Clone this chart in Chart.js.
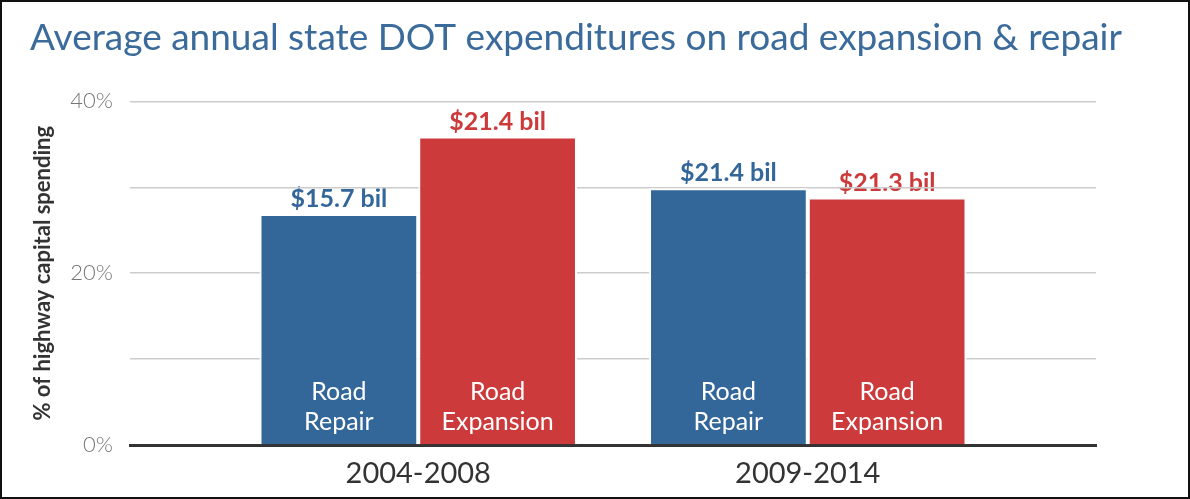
<!DOCTYPE html>
<html>
<head>
<meta charset="utf-8">
<script src="https://cdn.jsdelivr.net/npm/chart.js@4.4.1/dist/chart.umd.min.js"></script>
<style>
  html, body { margin: 0; padding: 0; background: #fff; }
  #wrap { width: 1190px; height: 499px; position: relative; }
  canvas { display: block; }
</style>
</head>
<body>
<div id="wrap"><canvas id="c" width="1190" height="499"></canvas></div>
<script>
// ---- data ----
const chartTitle = 'Average annual state DOT expenditures on road expansion & repair';
const yAxisTitle = '% of highway capital spending';
const categories = ['2004-2008', '2009-2014'];
const seriesNames = ['Road Repair', 'Road Expansion'];
const repairShare = [26.9, 29.9];      // % of highway capital spending
const expansionShare = [35.9, 28.8];   // % of highway capital spending
const repairDollars = ['$15.7 bil', '$21.4 bil'];
const expansionDollars = ['$21.4 bil', '$21.3 bil'];
const yTickLabels = { 0: '0%', 20: '20%', 40: '40%' };

const BLUE = '#336799';
const RED = '#cc3a3b';

function toPoints(arr) { return arr.map((v, i) => ({ x: i + 1, y: v })); }

const labelPlugin = {
  id: 'barLabels',
  beforeDraw(chart) {
    const ctx = chart.ctx;
    ctx.save();
    ctx.textAlign = 'center';
    ctx.textBaseline = 'alphabetic';
    ctx.font = 'bold 25px Lato';
    chart.data.datasets.forEach((ds, di) => {
      const meta = chart.getDatasetMeta(di);
      meta.data.forEach((bar, i) => {
        ctx.fillStyle = ds.backgroundColor;
        ctx.fillText(ds.valueLabels[i], bar.x, bar.y - 7);
      });
    });
    ctx.restore();
  },
  afterDatasetsDraw(chart) {
    const ctx = chart.ctx;
    ctx.save();
    ctx.textAlign = 'center';
    ctx.textBaseline = 'middle';
    ctx.font = '25px Lato';
    ctx.fillStyle = '#ffffff';
    chart.data.datasets.forEach((ds, di) => {
      const meta = chart.getDatasetMeta(di);
      const words = ds.label.split(' ');
      meta.data.forEach((bar) => {
        ctx.fillText(words[0], bar.x, 392);
        ctx.fillText(words.slice(1).join(' '), bar.x, 422);
      });
    });
    ctx.restore();
  },
  afterDraw(chart) {
    const ctx = chart.ctx;
    ctx.save();
    ctx.strokeStyle = '#111';
    ctx.lineWidth = 2;
    ctx.strokeRect(1, 1, chart.width - 2, chart.height - 2);
    ctx.restore();
  }
};

new Chart(document.getElementById('c'), {
  type: 'bar',
  data: {
    datasets: [
      { label: seriesNames[0], data: toPoints(repairShare), backgroundColor: BLUE,
        borderColor: '#ffffff', borderWidth: 2, borderSkipped: 'bottom', valueLabels: repairDollars },
      { label: seriesNames[1], data: toPoints(expansionShare), backgroundColor: RED,
        borderColor: '#ffffff', borderWidth: 2, borderSkipped: 'bottom', valueLabels: expansionDollars }
    ]
  },
  options: {
    responsive: false,
    animation: false,
    devicePixelRatio: 1,
    layout: { padding: { left: 30, right: 20, top: 0, bottom: 0 } },
    categoryPercentage: 0.815,
    barPercentage: 1.0,
    plugins: {
      legend: { display: false },
      tooltip: { enabled: false },
      title: {
        display: true,
        text: chartTitle,
        align: 'start',
        color: '#3a6b9b',
        font: { family: 'Lato', size: 37, weight: 'normal' },
        padding: { top: 16, bottom: 41 }
      }
    },
    scales: {
      x: {
        type: 'linear',
        offset: false,
        bounds: 'data',
        min: 0.26,
        max: 2.74,
        grid: { display: false, drawTicks: false },
        border: { display: true, color: '#333333', width: 3 },
        afterBuildTicks(scale) { scale.ticks = categories.map((c, i) => ({ value: i + 1 })); },
        ticks: {
          callback: (v) => categories[v - 1] || '',
          color: '#333333',
          font: { family: 'Lato', size: 29 },
          padding: 11,
          maxRotation: 0
        },
        afterFit(scale) { scale.height = 54; }
      },
      y: {
        min: 0,
        max: 40,
        ticks: {
          stepSize: 10,
          callback: (v) => yTickLabels[v] || '',
          color: '#777777',
          font: { family: 'Lato', size: 22, weight: '300' },
          padding: 17
        },
        grid: { color: '#cccccc', lineWidth: 1.5, drawTicks: false },
        border: { display: false },
        title: {
          display: true,
          text: yAxisTitle,
          color: '#333333',
          font: { family: 'Lato', size: 22, weight: 'bold' },
          padding: { top: 0, bottom: 0 }
        },
        afterFit(scale) { scale.width = 100; }
      },
      yRight: {
        position: 'right',
        min: 0,
        max: 40,
        grid: { display: false, drawTicks: false },
        border: { display: false },
        ticks: { display: false },
        afterFit(scale) { scale.width = 74; }
      }
    }
  },
  plugins: [labelPlugin]
});
</script>
</body>
</html>
